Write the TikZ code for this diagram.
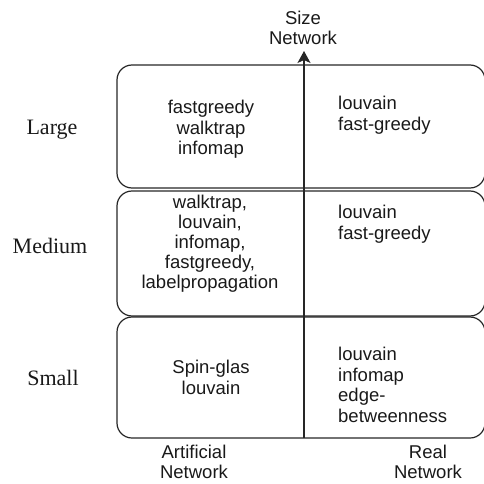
\documentclass[tikz,border=0pt]{standalone}
\usepackage{fontspec}
\setmainfont{Liberation Serif}
\newfontfamily\arialfont{Liberation Sans}
\usetikzlibrary{arrows.meta}

\begin{document}
\begin{tikzpicture}[x=1pt,y=-1pt,
  band/.style={draw=black!85, line width=1.2pt, rounded corners=15pt},
  txt/.style={inner sep=0pt, font=\arialfont\fontsize{18.5}{20.5}\selectfont, text=black!90},
  tight/.style={font=\arialfont\fontsize{18.5}{20}\selectfont},
  sizelabel/.style={inner sep=0pt, font=\fontsize{22}{24}\selectfont, text=black!90},
  axis/.style={draw=black!85, line width=1.2pt, -{Stealth[length=12pt,width=13pt,inset=3pt]}}
]
\useasboundingbox (0,0) rectangle (484,484);

% size bands
\begin{scope}
\clip (0,0) rectangle (484,484);
\draw[band] (117,65) rectangle (485,188);
\draw[band] (117,191) rectangle (485,316);
\draw[band] (117,317) rectangle (485,438);
\end{scope}

% vertical axis
\coordinate (axisbot) at (304,438);
\coordinate (axistop) at (304,51);
\draw[axis] (axisbot) -- (axistop);

% axis captions
\node[txt, tight, anchor=north, align=center] (ytitle) at (303,11) {Size\\Network};
\node[txt, tight, anchor=north, align=center] (artificial) at (194,445) {Artificial\\Network};
\node[txt, tight, anchor=north, align=center] (real) at (428,445) {Real\\Network};

% row labels
\node[sizelabel] (large) at (52,130) {Large};
\node[sizelabel] (medium) at (50,246) {Medium};
\node[sizelabel] (small) at (53,378) {Small};

% large networks
\node[txt, anchor=north, align=center] (largeart) at (211,100) {fastgreedy\\walktrap\\infomap};
\node[txt, anchor=north west, align=left] (largereal) at (338,96) {louvain\\fast-greedy};

% medium networks
\node[txt, tight, anchor=north, align=center] (medart) at (210,195) {walktrap,\\louvain,\\infomap,\\fastgreedy,\\labelpropagation};
\node[txt, anchor=north west, align=left] (medreal) at (338,205) {louvain\\fast-greedy};

% small networks
\node[txt, anchor=north, align=center] (smallart) at (211,360) {Spin-glas\\louvain};
\node[txt, anchor=north west, align=left] (smallreal) at (338,347) {louvain\\infomap\\edge-\\betweenness};
\end{tikzpicture}
\end{document}
